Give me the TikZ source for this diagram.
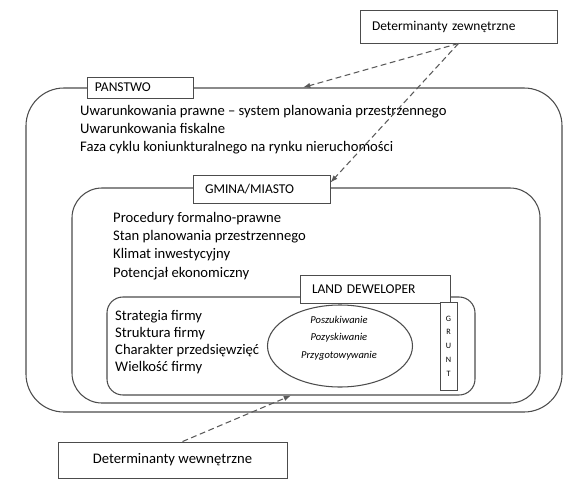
\documentclass[tikz,border=0pt]{standalone}
\usepackage{fontspec}
\setmainfont{Carlito}
\usetikzlibrary{arrows.meta,calc,shapes.geometric}

\begin{document}
\begin{tikzpicture}[%
    x=0.03cm, y=-0.03cm,
    panel/.style={
        draw=black!70,
        line width=0.9pt,
        rectangle,
        rounded corners=#1,
        },
    labelbox/.style={
        draw=black!70,
        line width=0.8pt,
        fill=white,
        rectangle,
        inner ysep=0,
        align=left,
        font=\fontsize{11.5}{13}\selectfont,
        },
    factors/.style={
        align=left,
        anchor=north west,
        inner sep=0,
        font=\fontsize{12.5}{15}\selectfont,
        },
    link/.style={
        draw=black!65,
        line width=0.9pt,
        dash pattern=on 5pt off 3pt,
        -{Latex[length=2.2mm,width=1.6mm]},
        },
]
\useasboundingbox (0,0) rectangle (565,479);

% nested levels
\node[panel=1.14cm, minimum width=16.08cm, minimum height=9.72cm] (outer) at (294,250) {};
\node[panel=0.9cm, minimum width=14.04cm, minimum height=6.45cm] (middle) at (306,295.5) {};
\node[panel=0.48cm, minimum width=11.04cm, minimum height=2.94cm] (inner) at (291,346) {};

% level labels
\node[labelbox, minimum height=0.99cm, inner xsep=0.36cm, text width=5.19cm] (ext) at (458.5,26.5) {Determinanty zewnętrzne};
\node[labelbox, minimum height=0.63cm, inner xsep=0.24cm, text width=2.7cm] (panstwo) at (140,87.5) {PANSTWO};
\node[labelbox, minimum height=0.84cm, inner xsep=0.36cm, text width=3.39cm] (gmina) at (261.5,189) {GMINA/MIASTO};
\node[labelbox, minimum height=0.84cm, inner xsep=0.36cm, text width=3.78cm] (land) at (375,289) {LAND DEWELOPER};
\node[labelbox, minimum height=1.08cm, minimum width=6.87cm, align=center,
      font=\fontsize{12.5}{14}\selectfont] (int) at (172.5,460) {Determinanty wewnętrzne};

% factors
\node[factors] (panstwo list) at (80,105.5) {Uwarunkowania prawne -- system planowania przestrzennego\\
    Uwarunkowania fiskalne\\
    Faza cyklu koniunkturalnego na rynku nieruchomości};
\node[factors, font=\fontsize{12.5}{15.4}\selectfont] (gmina list) at (113,212.5) {Procedury formalno-prawne\\
    Stan planowania przestrzennego\\
    Klimat inwestycyjny\\
    Potencjał ekonomiczny};
\node[factors, font=\fontsize{12.5}{14.5}\selectfont] (land list) at (115,310.5) {Strategia firmy\\
    Struktura firmy\\
    Charakter przedsięwzięć\\
    Wielkość firmy};

\node[draw=black!70, line width=0.9pt, fill=white, ellipse, minimum width=4.35cm, minimum height=2.46cm] (activity) at (340,346) {};
\node[align=center, font=\fontsize{9}{15}\itshape] (activity text) at (339,338) {Poszukiwanie\\Pozyskiwanie\\Przygotowywanie};

\node[labelbox, inner sep=0, align=center, minimum width=0.51cm, minimum height=2.64cm,
      font=\fontsize{7}{11.7}\selectfont] (grunt) at (448.5,346) {G\\R\\U\\N\\T};

% influences
\draw[link] (ext.south) -- ($(outer.north)+(9,0)$);
\draw[link] (ext.south) -- ($(gmina.north east)+(0,8)$);
\draw[link] ($(int.north)+(10,0)$) -- (inner.south);

\end{tikzpicture}
\end{document}
